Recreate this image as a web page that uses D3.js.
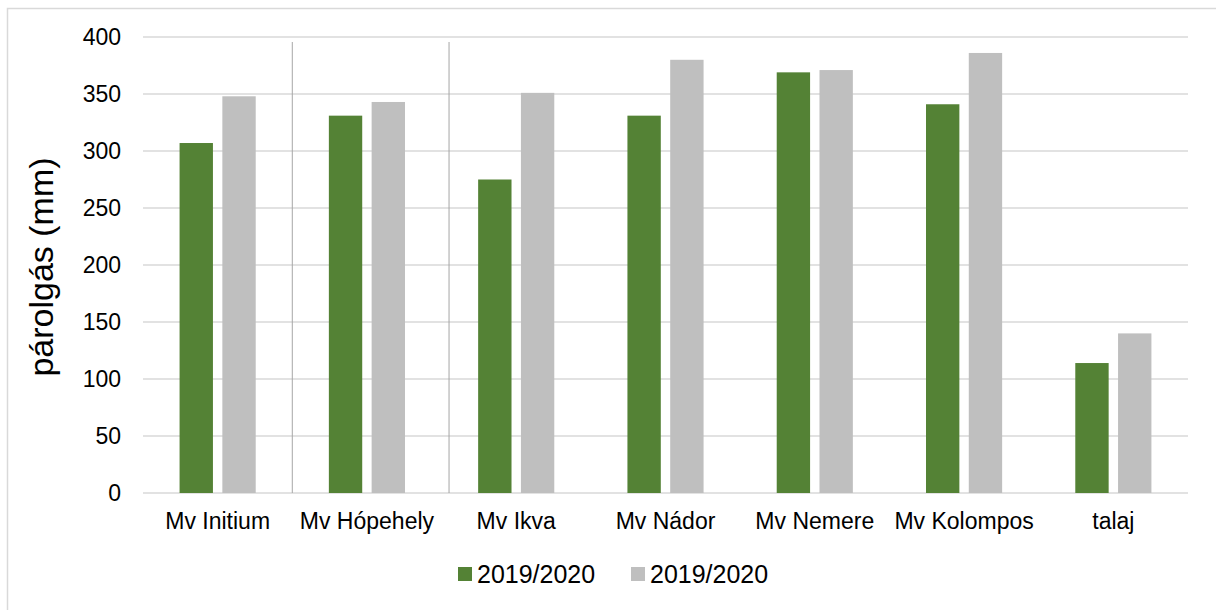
<!DOCTYPE html>
<html>
<head>
<meta charset="utf-8">
<script src="https://cdn.jsdelivr.net/npm/d3@7"></script>
<style>
  body { margin: 0; background: #fff; }
  svg text { font-family: "Liberation Sans", Arial, sans-serif; fill: #000; }
</style>
</head>
<body>
<div class="chart"></div>
<script>
// DATA ------------------------------
const categories = ["Mv Initium", "Mv Hópehely", "Mv Ikva", "Mv Nádor", "Mv Nemere", "Mv Kolompos", "talaj"];
const seriesNames = ["2019/2020", "2019/2020 "];
const seriesA = [307, 331, 275, 331, 369, 341, 114];
const seriesB = [348, 343, 351, 380, 371, 386, 140];
const yTicks = [0, 50, 100, 150, 200, 250, 300, 350, 400];
const colors = ["#548235", "#BFBFBF"];
// stray vertical lines in the plot, in category units
const dividers = [1, 2.05];

// CHART INIT ------------------------------
const W = 1216, H = 610;
const plot = ({left: 143, right: 1188, top: 37, bottom: 493});

const svg = d3.select(".chart")
    .append("svg")
    .attr("width", W)
    .attr("height", H);

// outer border
svg.append("rect")
    .attr("x", 7.5).attr("y", 8.5)
    .attr("width", W + 10).attr("height", H + 10)
    .attr("fill", "none")
    .attr("stroke", "#D9D9D9")
    .attr("stroke-width", 1.5);

let x0 = d3.scaleBand()
    .domain(categories)
    .range([plot.left, plot.right])
    .paddingInner(0.49)
    .paddingOuter(0.245);
let x1 = d3.scaleBand()
    .domain([0, 1])
    .range([0, x0.bandwidth()])
    .paddingInner(0.22);
let yScale = d3.scaleLinear()
    .domain([0, 400])
    .range([plot.bottom, plot.top]);

// gridlines
svg.append("g")
    .selectAll("line")
    .data(yTicks)
    .enter()
    .append("line")
    .attr("x1", plot.left).attr("x2", plot.right)
    .attr("y1", d => yScale(d)).attr("y2", d => yScale(d))
    .attr("stroke", "#D9D9D9")
    .attr("stroke-width", 1.5);

// stray dividers
const step = (plot.right - plot.left) / categories.length;
svg.append("g")
    .selectAll("line")
    .data(dividers)
    .enter()
    .append("line")
    .attr("x1", d => plot.left + d * step).attr("x2", d => plot.left + d * step)
    .attr("y1", 42).attr("y2", plot.bottom)
    .attr("stroke", "#A6A6A6")
    .attr("stroke-width", 1);

// bars
const rows = categories.map((c, i) => ({cat: c, vals: [seriesA[i], seriesB[i]]}));
const groups = svg.append("g")
    .selectAll("g")
    .data(rows)
    .enter()
    .append("g")
    .attr("transform", d => `translate(${x0(d.cat)},0)`);
groups.selectAll("rect")
    .data(d => d.vals.map((v, k) => ({k, v})))
    .enter()
    .append("rect")
    .attr("x", d => x1(d.k))
    .attr("width", x1.bandwidth())
    .attr("y", d => yScale(d.v))
    .attr("height", d => plot.bottom - yScale(d.v))
    .attr("fill", d => colors[d.k]);

// y axis labels
let yAxis = d3.axisLeft(yScale).tickValues(yTicks).tickSize(0).tickPadding(22);
const yg = svg.append("g")
    .attr("class", "axis y-axis")
    .attr("transform", `translate(${plot.left},0)`)
    .call(yAxis);
yg.select(".domain").remove();
yg.selectAll("text").attr("font-size", "23px").attr("font-family", "Liberation Sans, Arial, sans-serif");

// x axis labels
let xAxis = d3.axisBottom(x0).tickSize(0).tickPadding(20);
const xg = svg.append("g")
    .attr("class", "axis x-axis")
    .attr("transform", `translate(0,${plot.bottom})`)
    .call(xAxis);
xg.select(".domain").remove();
xg.selectAll("text").attr("font-size", "23px").attr("font-family", "Liberation Sans, Arial, sans-serif");

// y axis title
svg.append("text")
    .attr("transform", `translate(53,267) rotate(-90)`)
    .attr("text-anchor", "middle")
    .attr("font-size", "34px")
    .text("párolgás (mm)");

// legend
const legendX = [458, 631];
const legend = svg.append("g")
    .selectAll("g")
    .data(seriesNames)
    .enter()
    .append("g")
    .attr("transform", (d, i) => `translate(${legendX[i]},567)`);
legend.append("rect")
    .attr("width", 14).attr("height", 14)
    .attr("fill", (d, i) => colors[i]);
legend.append("text")
    .attr("x", 19).attr("y", 16)
    .attr("font-size", "25px")
    .text(d => d.trim());
</script>
</body>
</html>
